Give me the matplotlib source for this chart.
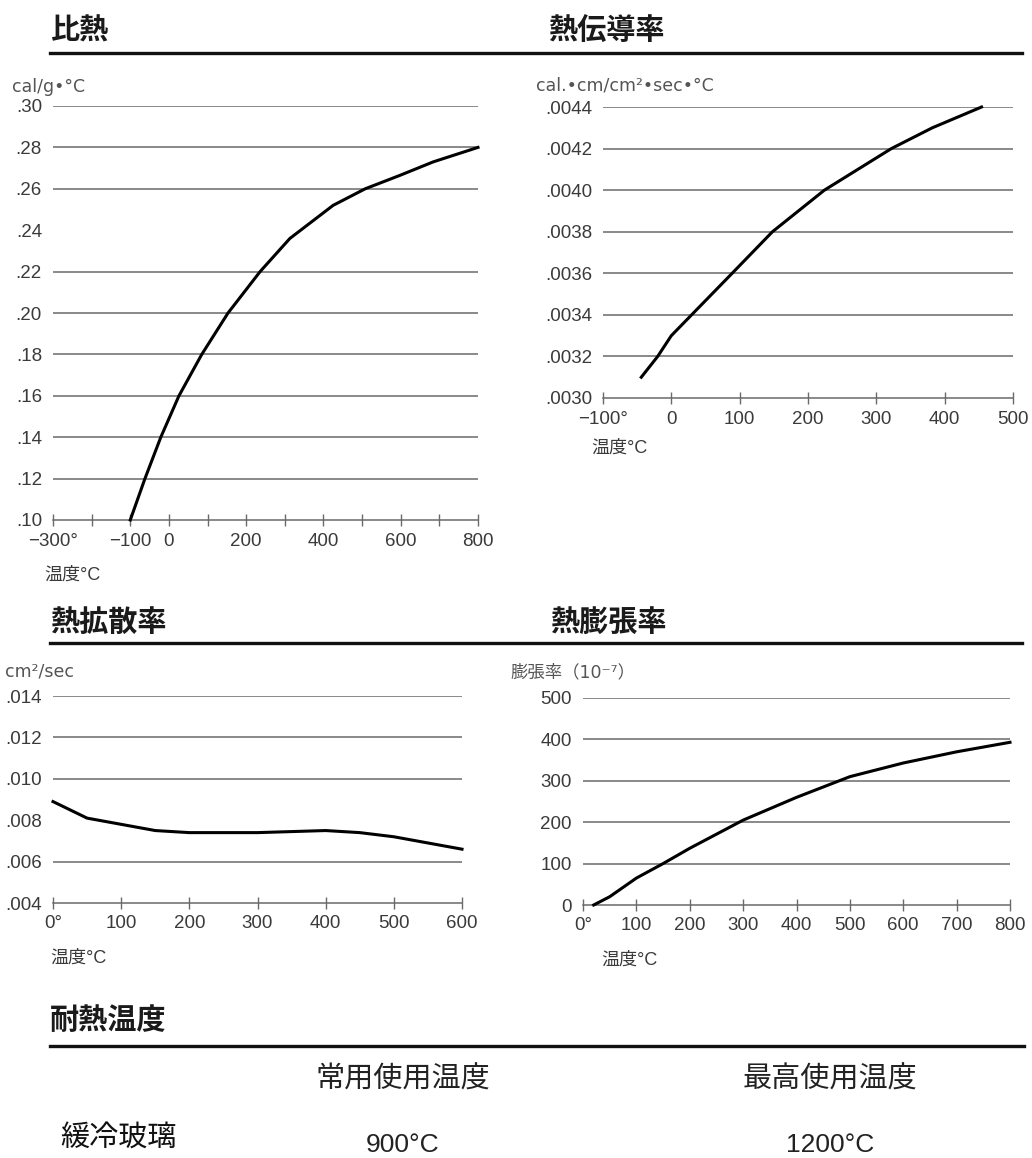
import numpy as np
import matplotlib.pyplot as plt
from matplotlib.lines import Line2D

plt.rcParams['font.family'] = ['Liberation Sans', 'Noto Sans CJK JP', 'DejaVu Sans']

# 比熱 (cal/g・°C)
sh_temp = [-100, -62, -21, 26, 85, 153, 236, 313, 425, 508, 598, 684, 800]
sh_val = [.100, .120, .140, .160, .180, .200, .220, .236, .252, .260, .2665, .273, .280]
sh_xticks = [-300, -100, 0, 200, 400, 600, 800]
sh_xlabels = ['−300°', '−100', '0', '200', '400', '600', '800']
sh_yticks = [.10, .12, .14, .16, .18, .20, .22, .24, .26, .28, .30]
sh_ylabels = ['.10', '.12', '.14', '.16', '.18', '.20', '.22', '.24', '.26', '.28', '.30']
sh_grid = [.12, .14, .16, .18, .20, .22, .26, .28, .30]

# 熱伝導率 (cal・cm/cm²・sec・°C)
tc_temp = [-44, -20, 0, 89, 148, 224, 322, 382, 454]
tc_val = [.0031, .0032, .0033, .0036, .0038, .0040, .0042, .0043, .0044]
tc_xticks = [-100, 0, 100, 200, 300, 400, 500]
tc_xlabels = ['−100°', '0', '100', '200', '300', '400', '500']
tc_yticks = [.0030, .0032, .0034, .0036, .0038, .0040, .0042, .0044]
tc_ylabels = ['.0030', '.0032', '.0034', '.0036', '.0038', '.0040', '.0042', '.0044']
tc_grid = [.0032, .0034, .0036, .0038, .0040, .0042, .0044]

# 熱拡散率 (cm²/sec)
td_temp = [0, 50, 100, 150, 200, 300, 400, 450, 500, 550, 600]
td_val = [.0089, .0081, .0078, .0075, .0074, .0074, .0075, .0074, .0072, .0069, .0066]
td_xticks = [0, 100, 200, 300, 400, 500, 600]
td_xlabels = ['0°', '100', '200', '300', '400', '500', '600']
td_yticks = [.004, .006, .008, .010, .012, .014]
td_ylabels = ['.004', '.006', '.008', '.010', '.012', '.014']
td_grid = [.006, .010, .012, .014]

# 熱膨張率 (10⁻⁷)
te_temp = [20, 50, 100, 150, 200, 300, 400, 500, 600, 700, 800]
te_val = [0, 20, 65, 100, 137, 205, 260, 310, 343, 370, 393]
te_xticks = [0, 100, 200, 300, 400, 500, 600, 700, 800]
te_xlabels = ['0°', '100', '200', '300', '400', '500', '600', '700', '800']
te_yticks = [0, 100, 200, 300, 400, 500]
te_ylabels = ['0', '100', '200', '300', '400', '500']
te_grid = [100, 200, 300, 400, 500]

# 耐熱温度
heat_cols = ['常用使用温度', '最高使用温度']
heat_rows = ['緩冷玻璃']
heat_vals = [['900°C', '1200°C']]

W, H = 1032, 1158
fig = plt.figure(figsize=(W / 100, H / 100), dpi=100)
TXT = '#3a3a3a'
GRID = '#6a6a6a'


def axes_px(x0, y0, x1, y1):
    return fig.add_axes([x0 / W, 1 - y1 / H, (x1 - x0) / W, (y1 - y0) / H])


def ftext(x, y, s, **kw):
    fig.text(x / W, 1 - y / H, s, **kw)


def hline(x0, x1, y, lw=2.4):
    fig.add_artist(Line2D([x0 / W, x1 / W], [1 - y / H, 1 - y / H],
                          transform=fig.transFigure, color='#111', lw=lw))


def chart(box, temp, val, xlim, ylim, xticks, xlabels, yticks, ylabels, grid, minor):
    ax = axes_px(*box)
    ax.set_xlim(*xlim)
    ax.set_ylim(*ylim)
    for g in grid:
        ax.axhline(g, color=GRID, lw=1.1, zorder=1)
    ax.plot(temp, val, color='black', lw=2.2, clip_on=False, zorder=3)
    for s in ['top', 'left', 'right']:
        ax.spines[s].set_visible(False)
    ax.spines['bottom'].set_color(GRID)
    ax.spines['bottom'].set_linewidth(1.1)
    ax.set_xticks(xticks)
    ax.set_xticklabels(xlabels)
    ax.set_xticks(minor, minor=True)
    ax.set_yticks(yticks)
    ax.set_yticklabels(ylabels)
    ax.tick_params(axis='x', which='both', direction='inout', length=8, width=1,
                   color=GRID, labelsize=13.5, labelcolor=TXT, pad=5)
    ax.tick_params(axis='y', length=0, labelsize=13.5, labelcolor=TXT, pad=8)
    ax.patch.set_alpha(0)
    return ax


chart((53, 106, 478, 520), sh_temp, sh_val, (-300, 800), (.10, .30),
      sh_xticks, sh_xlabels, sh_yticks, sh_ylabels, sh_grid, np.arange(-300, 801, 100))
chart((603, 107, 1013, 398), tc_temp, tc_val, (-100, 500), (.0030, .0044),
      tc_xticks, tc_xlabels, tc_yticks, tc_ylabels, tc_grid, np.arange(-100, 501, 100))
chart((53, 696, 462, 903), td_temp, td_val, (0, 600), (.004, .014),
      td_xticks, td_xlabels, td_yticks, td_ylabels, td_grid, [])
chart((583, 698, 1010, 905), te_temp, te_val, (0, 800), (0, 500),
      te_xticks, te_xlabels, te_yticks, te_ylabels, te_grid, np.arange(0, 801, 100))

# section headers
title_kw = dict(family=['Noto Sans CJK JP'], fontsize=21, fontweight='bold', va='center', color='#1a1a1a')
ftext(50, 31, '比熱', **title_kw)
ftext(548, 31, '熱伝導率', **title_kw)
ftext(50, 622, '熱拡散率', **title_kw)
ftext(550, 622, '熱膨張率', **title_kw)
ftext(50, 1020, '耐熱温度', **title_kw)
hline(50, 1022, 53)
hline(50, 1022, 643)
hline(50, 1024, 1046)

# units and axis labels
unit_kw = dict(family=['DejaVu Sans', 'Noto Sans CJK JP'], fontsize=12.5, va='center', color='#555')
ftext(12, 87, 'cal/g•°C', **unit_kw)
ftext(536, 85, 'cal.•cm/cm²•sec•°C', **unit_kw)
ftext(74, 672, 'cm²/sec', ha='right', **unit_kw)
ftext(510, 672, '膨張率（10⁻⁷）', **unit_kw)
xl_kw = dict(fontsize=13, va='center', color=TXT)
ftext(44, 575, '温度°C', **xl_kw)
ftext(591, 448, '温度°C', **xl_kw)
ftext(50, 958, '温度°C', **xl_kw)
ftext(601, 960, '温度°C', **xl_kw)

# heat resistance table
col_x = [403, 830]
for cx, c in zip(col_x, heat_cols):
    ftext(cx, 1080, c, family=['Noto Sans CJK JP'], fontsize=21, ha='center', va='center', color='#222')
for i, r in enumerate(heat_rows):
    ftext(60, 1139, r, family=['Noto Sans CJK JP'], fontsize=21, va='center', color='#111')
    for cx, v in zip(col_x, heat_vals[i]):
        ftext(cx, 1145, v, fontsize=19, ha='center', va='center', color='#222')

fig.savefig('out.png', dpi=100, facecolor='white')
